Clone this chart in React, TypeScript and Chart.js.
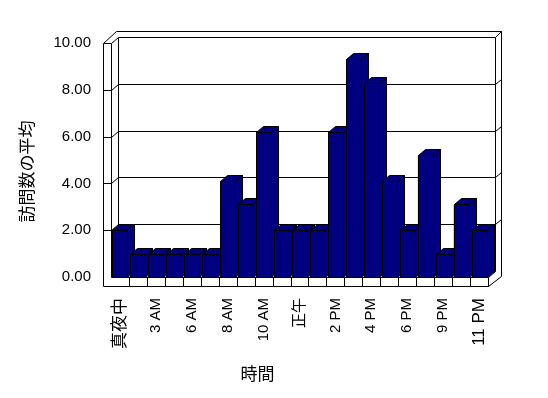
import React, { useEffect, useRef } from 'react';
import { Chart, registerables } from 'chart.js';

Chart.register(...registerables);

// ---- data ----
const hours = ['真夜中', '1 AM', '3 AM', '4 AM', '6 AM', '7 AM', '8 AM', '9 AM', '10 AM', '11 AM', '正午', '1 PM', '2 PM', '3 PM', '4 PM', '5 PM', '6 PM', '8 PM', '9 PM', '10 PM', '11 PM'];
const averageVisits = [2, 1, 1, 1, 1, 1, 4.1, 3.1, 6.2, 2, 2, 2, 6.2, 9.3, 8.3, 4.1, 2, 5.2, 1, 3.1, 2];
const yMin = 0;
const yMax = 10;
const yStep = 2;
const xTitle = '時間';
const yTitle = '訪問数の平均';

// ---- style ----
const FONT = '"Liberation Sans", "Noto Sans CJK JP", sans-serif';
const CJK_FONT = '"Noto Sans CJK JP", sans-serif';
const BAR_COLOR = '#000080';
const DEPTH_X = 7;
const DEPTH_Y = -6;
const OUTER_X = 12.5;
const OUTER_Y = -12;
const WALL = 8;
const FLOOR = 9;

const px = (v: number) => Math.round(v) + 0.5;

const frame3d = {
  id: 'frame3d',
  beforeDatasetsDraw(chart: any) {
    const { ctx, chartArea: a, scales } = chart;
    const y = scales.y;
    const L = a.left, R = a.right;
    const T = y.getPixelForValue(yMax);
    const B = y.getPixelForValue(yMin);
    const Lw = L - WALL;
    const Fb = B + FLOOR;
    const line = (pts: number[][]) => {
      ctx.beginPath();
      pts.forEach(([x0, y0], i) => (i ? ctx.lineTo(px(x0), px(y0)) : ctx.moveTo(px(x0), px(y0))));
      ctx.stroke();
    };
    ctx.save();
    ctx.strokeStyle = '#000';
    ctx.lineWidth = 1;
    // left wall
    line([[Lw, Fb], [Lw, T], [L, T], [L, B]]);
    line([[Lw, T], [Lw + OUTER_X, T + OUTER_Y], [R + OUTER_X, T + OUTER_Y], [R + OUTER_X, Fb + OUTER_Y + 1.5]]);
    line([[L, T], [L + DEPTH_X, T + DEPTH_Y], [R + DEPTH_X, T + DEPTH_Y], [R + DEPTH_X, B + DEPTH_Y]]);
    line([[R + DEPTH_X, T + DEPTH_Y], [R + OUTER_X, T + OUTER_Y]]);
    line([[L + DEPTH_X, T + DEPTH_Y], [L + DEPTH_X, B + DEPTH_Y], [R + DEPTH_X, B + DEPTH_Y]]);
    // floor
    line([[L, B], [R, B], [R, Fb], [Lw, Fb]]);
    line([[R, B], [R + DEPTH_X, B + DEPTH_Y]]);
    line([[R, Fb], [R + OUTER_X, Fb + OUTER_Y + 1.5]]);
    // gridlines
    for (let v = yMin + yStep; v < yMax; v += yStep) {
      const yf = y.getPixelForValue(v);
      line([[Lw, yf], [L, yf], [L + DEPTH_X, yf + DEPTH_Y], [R + DEPTH_X, yf + DEPTH_Y], [R + OUTER_X, yf + OUTER_Y + 1]]);
    }
    // category dividers on floor front
    const n = hours.length;
    const w = (R - L) / n;
    for (let k = 1; k < n; k++) {
      const xk = L + k * w;
      line([[xk, B], [xk, Fb]]);
    }
    ctx.restore();
  },
  afterDatasetsDraw(chart: any) {
    const { ctx } = chart;
    const meta = chart.getDatasetMeta(0);
    ctx.save();
    ctx.strokeStyle = '#000';
    ctx.lineWidth = 1;
    ctx.fillStyle = BAR_COLOR;
    const poly = (pts: number[][]) => {
      ctx.beginPath();
      pts.forEach(([x0, y0], i) => (i ? ctx.lineTo(x0 + 0.5, y0 + 0.5) : ctx.moveTo(x0 + 0.5, y0 + 0.5)));
      ctx.closePath();
      ctx.fill();
      ctx.stroke();
    };
    meta.data.forEach((bar: any) => {
      const { x, y, base, width } = bar.getProps(['x', 'y', 'base', 'width'], true);
      const l = Math.round(x - width / 2);
      const r = l + Math.round(width);
      const t = Math.round(y);
      const b = Math.round(base);
      poly([[l, t], [l + DEPTH_X, t + DEPTH_Y], [r + DEPTH_X, t + DEPTH_Y], [r, t]]);
      poly([[r, t], [r + DEPTH_X, t + DEPTH_Y], [r + DEPTH_X, b + DEPTH_Y], [r, b]]);
      poly([[l, t], [r, t], [r, b], [l, b]]);
    });
    ctx.restore();
  },
  afterDraw(chart: any) {
    const { ctx, chartArea: a } = chart;
    ctx.save();
    ctx.fillStyle = '#000';
    ctx.font = `17px ${CJK_FONT}`;
    ctx.textAlign = 'center';
    ctx.textBaseline = 'middle';
    ctx.fillText(xTitle, a.left + 146.5, a.bottom + 97);
    ctx.translate(a.left - 84.5, a.top + 128.5);
    ctx.rotate(-Math.PI / 2);
    ctx.fillText(yTitle, 0, 0);
    ctx.restore();
  },
};

export default function App() {
  const ref = useRef<HTMLCanvasElement | null>(null);
  useEffect(() => {
    if (!ref.current) return;
    const chart = new Chart(ref.current, {
      type: 'bar',
      data: {
        labels: hours,
        datasets: [
          {
            data: averageVisits,
            backgroundColor: BAR_COLOR,
            borderColor: '#000',
            borderWidth: 1,
            barPercentage: 0.836,
            categoryPercentage: 1,
          },
        ],
      },
      options: {
        responsive: false,
        animation: false,
        layout: { padding: { top: 43, right: 60, left: 0, bottom: 0 } },
        plugins: { legend: { display: false }, tooltip: { enabled: false }, title: { display: false } },
        scales: {
          x: {
            grid: { display: false, drawTicks: false },
            border: { display: false },
            ticks: {
              autoSkip: false,
              maxRotation: 90,
              minRotation: 90,
              padding: 21,
              color: '#000',
              font: (c: any) => ({ family: FONT, size: /[^\x00-\x7f]/.test(hours[c.index] || '') ? 17 : 15 }),
              callback: (_v: any, i: number) => (i % 2 === 0 ? hours[i] : null),
            },
            afterFit: (s: any) => {
              s.height = 121;
            },
          },
          y: {
            min: yMin,
            max: yMax,
            grid: { display: false, drawTicks: false },
            border: { display: false },
            ticks: {
              stepSize: yStep,
              padding: 20,
              color: '#000',
              font: { family: FONT, size: 15 },
              callback: (v: any) => Number(v).toFixed(2),
            },
            afterFit: (s: any) => {
              s.width = 111;
            },
          },
        },
      },
      plugins: [frame3d],
    } as any);
    return () => chart.destroy();
  }, []);
  return (
    <div style={{ position: 'fixed', left: 0, top: 0, width: 548, height: 398, background: '#fff' }}>
      <canvas ref={ref} width={548} height={398} style={{ display: 'block' }} />
    </div>
  );
}
